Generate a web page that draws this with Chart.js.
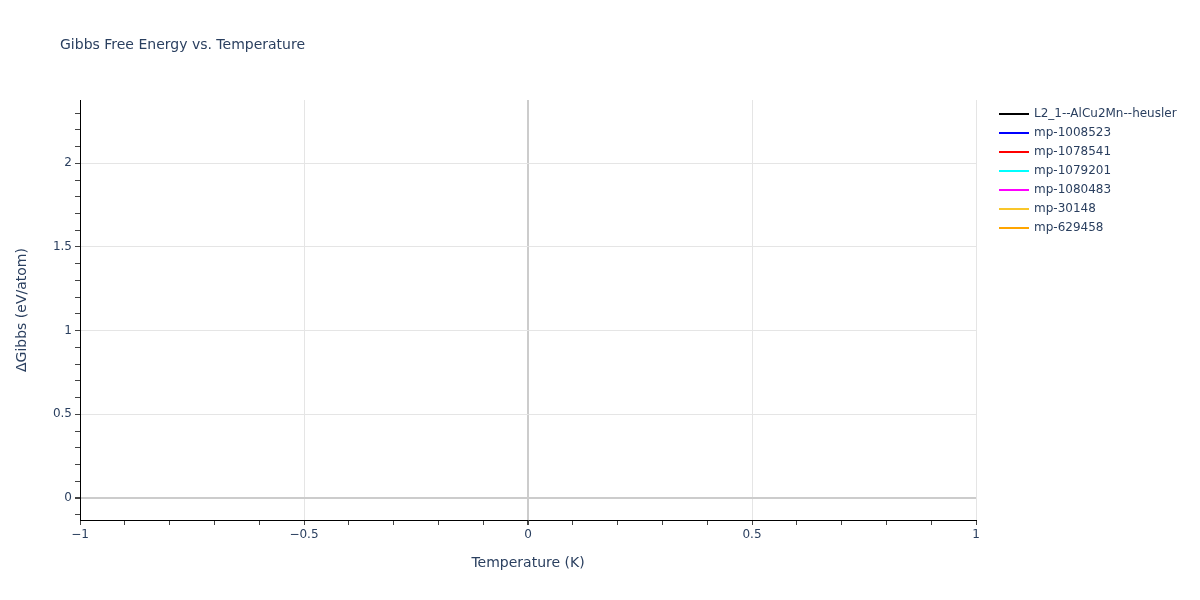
<!DOCTYPE html>
<html>
<head>
<meta charset="utf-8">
<script src="https://cdn.jsdelivr.net/npm/chart.js@4"></script>
<style>
html,body{margin:0;padding:0;background:#fff;}
#wrap{width:1200px;height:600px;position:relative;}
</style>
</head>
<body>
<div id="wrap"><canvas id="c" width="1200" height="600"></canvas></div>
<script>
const chartTitle = "Gibbs Free Energy vs. Temperature";
const xTitle = "Temperature (K)";
const yTitle = "\u0394Gibbs (eV/atom)";
const seriesNames = ["L2_1--AlCu2Mn--heusler","mp-1008523","mp-1078541","mp-1079201","mp-1080483","mp-30148","mp-629458"];
const seriesColors = ["#000000","#0000ff","#ff0000","#00ffff","#ff00ff","#f9c62a","#ffa500"];
// No visible data points in the reference: every series is empty
const seriesData = [[],[],[],[],[],[],[]];
const xRange = [-1, 1];
const yRange = [-0.131, 2.378];

const FONT = "'DejaVu Sans', Verdana, sans-serif";
const TXT = "#2a3f5f";

function isHalf(v){ return Math.abs(v*2 - Math.round(v*2)) < 1e-6; }
function fmt(v){
  let s = String(Math.round(v*10)/10);
  return s.replace('-', '\u2212');
}

const overlay = {
  id: 'overlay',
  afterDraw(chart){
    const ctx = chart.ctx;
    ctx.save();
    ctx.fillStyle = TXT;
    ctx.font = "14px " + FONT;
    ctx.textBaseline = 'middle';
    ctx.textAlign = 'left';
    ctx.fillText(chartTitle, 60, 45);
    ctx.font = "12px " + FONT;
    chart.data.datasets.forEach((ds, i) => {
      const y = 114 + i*19;
      ctx.strokeStyle = ds.borderColor;
      ctx.lineWidth = 2;
      ctx.beginPath();
      ctx.moveTo(999, y);
      ctx.lineTo(1029, y);
      ctx.stroke();
      ctx.fillStyle = TXT;
      ctx.fillText(ds.label, 1034, y);
    });
    ctx.restore();
  }
};

const datasets = seriesNames.map((n, i) => ({
  label: n,
  data: seriesData[i],
  borderColor: seriesColors[i],
  backgroundColor: seriesColors[i],
  borderWidth: 2,
  pointRadius: 0,
  fill: false
}));

function gridColor(ctx){
  const v = ctx.tick ? ctx.tick.value : 0;
  if (Math.abs(v) < 1e-9) return '#cccccc';
  if (isHalf(v)) return '#e5e5e5';
  return 'rgba(0,0,0,0)';
}
function gridWidth(ctx){
  const v = ctx.tick ? ctx.tick.value : 0;
  if (Math.abs(v) < 1e-9) return 2;
  return 1;
}

new Chart(document.getElementById('c'), {
  type: 'line',
  data: { datasets },
  plugins: [overlay],
  options: {
    responsive: false,
    animation: false,
    devicePixelRatio: 1,
    layout: { padding: { top: 100, right: 224, left: 0, bottom: 0 } },
    plugins: { legend: { display: false }, title: { display: false }, tooltip: { enabled: false } },
    scales: {
      x: {
        type: 'linear',
        min: xRange[0], max: xRange[1],
        afterFit(s){ s.height = 80; },
        border: { display: true, color: '#000000', width: 1 },
        grid: { color: gridColor, lineWidth: gridWidth, tickColor: '#444444', tickLength: 5, drawTicks: true },
        ticks: {
          stepSize: 0.1, autoSkip: false, includeBounds: false, maxRotation: 0, padding: 3,
          color: TXT, font: { family: FONT, size: 12 },
          callback: (v) => isHalf(v) ? fmt(v) : ''
        },
        title: { display: true, text: xTitle, color: TXT, font: { family: FONT, size: 14 }, padding: { top: 0, bottom: 28.6 } }
      },
      y: {
        type: 'linear',
        min: yRange[0], max: yRange[1],
        afterFit(s){ s.width = 80; },
        border: { display: true, color: '#000000', width: 1 },
        grid: { color: gridColor, lineWidth: gridWidth, tickColor: '#444444', tickLength: 5, drawTicks: true },
        ticks: {
          stepSize: 0.1, autoSkip: false, includeBounds: false, padding: 3,
          color: TXT, font: { family: FONT, size: 12 },
          callback: (v) => isHalf(v) ? fmt(v) : ''
        },
        title: { display: true, text: yTitle, color: TXT, font: { family: FONT, size: 14 }, padding: { top: 14, bottom: 0 } }
      }
    }
  }
});
</script>
</body>
</html>
